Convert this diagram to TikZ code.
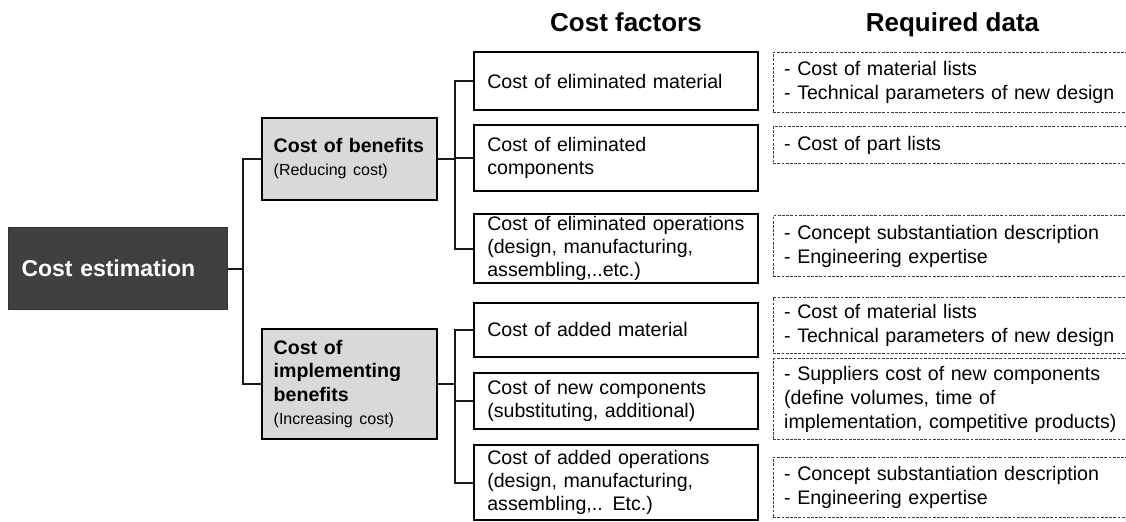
\documentclass[tikz,border=0pt]{standalone}
\usepackage{fontspec}
\setmainfont{Liberation Sans}
\usepackage{tikz}
\usetikzlibrary{positioning}
\definecolor{rootFill}{HTML}{404040}
\definecolor{branchFill}{HTML}{D9D9D9}
\definecolor{connGray}{HTML}{1A1A1A}
\definecolor{dataGray}{HTML}{404040}

\begin{document}
\begin{tikzpicture}[
    x=0.5pt, y=-0.5pt,
    % ── shared styles ───────────────────────────────────────────────
    root node/.style={
        rectangle, fill=rootFill, draw=rootFill!80!black, line width=0.5pt,
        font=\fontsize{11.5}{13}\selectfont\bfseries, text=white,
        anchor=north west, inner xsep=6.5pt, inner ysep=0.5pt,
        text width=96.5pt, align=left,
        minimum width=109.5pt, minimum height=41pt,
    },
    branch/.style={
        rectangle, fill=branchFill, draw=black, line width=1pt,
        font=\fontsize{9.8}{11.7}\selectfont,
        anchor=north west, inner xsep=6pt, inner ysep=0.5pt,
        text width=75.65pt, align=left,
        minimum width=87.65pt,
    },
    factor/.style={
        rectangle, fill=white, draw=black, line width=1pt,
        font=\fontsize{9.8}{11.5}\selectfont,
        anchor=north west, inner xsep=6.5pt, inner ysep=0.5pt,
        text width=129pt, align=left,
        minimum width=142pt,
    },
    data/.style={
        rectangle, draw=dataGray, line width=0.5pt,
        dash pattern=on 1.4pt off 0.7pt,
        font=\fontsize{9.8}{12}\selectfont,
        anchor=north west, inner xsep=5.3pt, inner ysep=0.5pt,
        text width=173pt, align=left,
        minimum width=184pt,
    },
    header/.style={
        font=\fontsize{13}{15}\selectfont\bfseries, anchor=base,
    },
    conn/.style={
        draw=connGray, line width=1pt,
    },
]
\useasboundingbox (0,0) rectangle (1126,521);

% =============================================================
%  Column headers
% =============================================================
\node[header] (hFactors) at (626,31.5) {Cost factors};
\node[header] (hData) at (952.5,31.5) {Required data};

% =============================================================
%  ROOT and first level
% =============================================================
\node[root node] (est) at (8,227) {Cost estimation};

\node[branch, minimum height=41.15pt] (ben) at (260.7,116.7)
    {\textbf{Cost of benefits}\\{\fontsize{8}{9.6}\selectfont(Reducing cost)}};

\node[branch, minimum height=55pt] (imp) at (260.7,328)
    {\textbf{Cost of}\\\textbf{implementing}\\\textbf{benefits}\\{\fontsize{8}{9.6}\selectfont(Increasing cost)}};

% =============================================================
%  COST FACTORS (F1--F6)
% =============================================================
\node[factor, minimum height=29.3pt] (f1) at (473.3,50.7)
    {Cost of eliminated material};
\node[factor, minimum height=32.85pt] (f2) at (473.3,124.3)
    {Cost of eliminated\\components};
\node[factor, minimum height=34.5pt] (f3) at (473.3,213.3)
    {Cost of eliminated operations\\(design, manufacturing,\\assembling,..etc.)};
\node[factor, minimum height=27pt] (f4) at (473.3,301.7)
    {Cost of added material};
\node[factor, minimum height=28.3pt] (f5) at (473.3,371.7)
    {Cost of new components\\(substituting, additional)};
\node[factor, minimum height=37.35pt] (f6) at (473.3,444.3)
    {Cost of added operations\\(design, manufacturing,\\assembling,.. Etc.)};

% =============================================================
%  REQUIRED DATA (R1--R6) -- open to the right edge
% =============================================================
\node[data, minimum height=30pt] (r1) at (772.7,51.7)
    {- Cost of material lists\\- Technical parameters of new design};
\node[data, minimum height=18.65pt] (r2) at (772.7,126)
    {- Cost of part lists};
\node[data, minimum height=30.5pt] (r3) at (772.7,215)
    {- Concept substantiation description\\- Engineering expertise};
\node[data, minimum height=28.3pt] (r4) at (772.7,296.7)
    {- Cost of material lists\\- Technical parameters of new design};
\node[data, minimum height=40.5pt] (r5) at (772.7,358.3)
    {- Suppliers cost of new components\\(define volumes, time of\\implementation, competitive products)};
\node[data, minimum height=30pt] (r6) at (772.7,456.7)
    {- Concept substantiation description\\- Engineering expertise};

% =============================================================
%  Connection lines
% =============================================================
\coordinate (spineA) at (243,0);
\coordinate (spineB) at (454.5,0);

\draw[conn] (est.east) -- (est.east -| spineA);
\draw[conn] (ben.west) -- (ben.west -| spineA) |- (imp.west);

\draw[conn] (ben.east) -- (ben.east -| spineB);
\draw[conn] (f1.west) -- (f1.west -| spineB) |- (f3.west);
\draw[conn] (f2.west) -- (f2.west -| spineB);

\draw[conn] (imp.east) -- (imp.east -| spineB);
\draw[conn] (f4.west) -- (f4.west -| spineB) |- (f6.west);
\draw[conn] (f5.west) -- (f5.west -| spineB);

\end{tikzpicture}
\end{document}
